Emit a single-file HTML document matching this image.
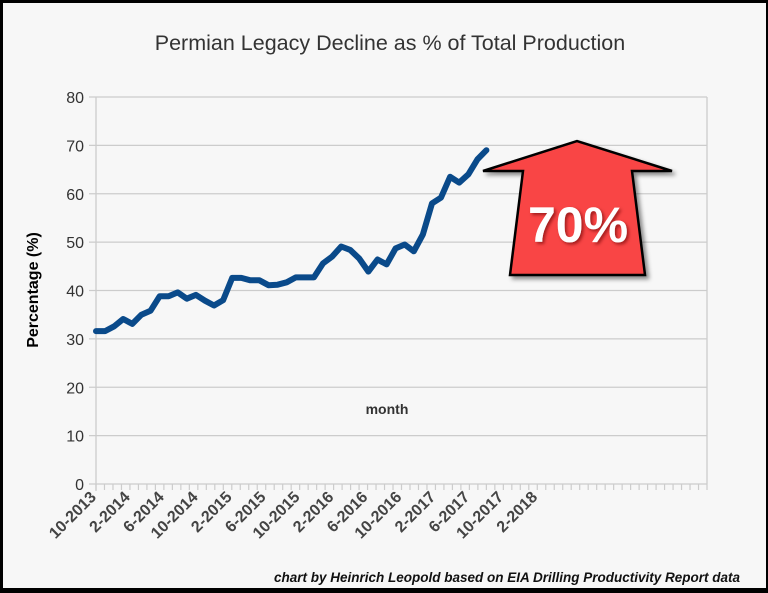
<!DOCTYPE html>
<html><head><meta charset="utf-8"><style>
html,body{margin:0;padding:0;background:#000}
#wrap{position:relative;width:768px;height:593px;overflow:hidden;background:#000}
svg{position:absolute;left:0;top:0;font-family:"Liberation Sans",sans-serif}
</style></head><body>
<div id="wrap">
<svg id="c" width="768" height="593">
<defs><filter id="sh" x="-20%" y="-20%" width="150%" height="150%"><feDropShadow dx="3" dy="3" stdDeviation="2" flood-color="#000" flood-opacity="0.45"/></filter>
<filter id="ts"><feDropShadow dx="2" dy="2" stdDeviation="1.5" flood-color="#600" flood-opacity="0.6"/></filter></defs>
<rect x="3" y="3" width="763" height="585" fill="#f7f7f7"/>
<text x="390" y="50" text-anchor="middle" font-size="21.5" fill="#333">Permian Legacy Decline as % of Total Production</text>
<text transform="translate(38,290) rotate(-90)" text-anchor="middle" font-size="16" font-weight="bold" fill="#000">Percentage (%)</text>
<text x="387" y="414" text-anchor="middle" font-size="14" font-weight="bold" fill="#333">month</text>
<g id="grid"></g><g id="xt"></g>
<path id="line" fill="none" stroke="#0a4a8a" stroke-width="6" stroke-linejoin="round" stroke-linecap="round"/>
<g>
<polygon points="483,171 577,141 672,171 632,171 645,275 510,275 523,171" fill="#f94545" stroke="#000" stroke-width="2.5" filter="url(#sh)"/>
<text x="578" y="242" text-anchor="middle" font-size="50" font-weight="bold" fill="#fff" filter="url(#ts)">70%</text>
</g>
<text x="740" y="582" text-anchor="end" font-size="13.5" font-weight="bold" font-style="italic" fill="#111">chart by Heinrich Leopold based on EIA Drilling Productivity Report data</text>
</svg></div>
<script>
const yTicks=[0,10,20,30,40,50,60,70,80];
const xLabels=["10-2013","2-2014","6-2014","10-2014","2-2015","6-2015","10-2015","2-2016","6-2016","10-2016","2-2017","6-2017","10-2017","2-2018"];
const values=[31.6,31.6,32.6,34.1,33.1,35,35.8,38.8,38.8,39.6,38.3,39.1,37.9,36.9,38,42.6,42.6,42.1,42.1,41.1,41.2,41.7,42.7,42.7,42.7,45.6,47,49.1,48.4,46.6,43.9,46.4,45.4,48.7,49.5,48.1,51.6,58,59.2,63.5,62.3,64,67.1,69];
const X0=96,X1=707,Y0=484,Y1=97,NM=72;
const y=v=>Y0-(v/80)*(Y0-Y1);
const xm=m=>X0+m*(X1-X0)/NM;
const xi=i=>xm(i*1.07);
const NS="http://www.w3.org/2000/svg";
const g=document.getElementById('grid'),xt=document.getElementById('xt');
function mk(t,a,p){const e=document.createElementNS(NS,t);for(const k in a)e.setAttribute(k,a[k]);p.appendChild(e);return e;}
yTicks.forEach(v=>{
 const l=mk('line',{x1:X0-7,x2:X1,y1:y(v),y2:y(v),stroke:'#ccc','stroke-width':1.3},g);
 
 
 const t=mk('text',{x:X0-12,y:y(v)+6,'text-anchor':'end','font-size':16,fill:'#333'},g);
 t.textContent=v;
 
 
});
const ax=mk('line',{x1:X0,x2:X0,y1:Y1,y2:Y0+7,stroke:'#ccc','stroke-width':1.3},g);


const rx=mk('line',{x1:X1,x2:X1,y1:Y1,y2:Y0,stroke:'#ccc','stroke-width':1.3},g);


for(let m=0;m<=NM;m++){
 const tk=mk('line',{x1:xm(m),x2:xm(m),y1:Y0,y2:Y0+6,stroke:'#ccc','stroke-width':1.2},xt);
 
 
}
xLabels.forEach((s,i)=>{
 const px=xm(i*4);
 const t=mk('text',{x:px+1,y:Y0+14,'text-anchor':'end','font-size':16,'font-weight':'bold',fill:'#444',transform:`rotate(-45 ${px+1} ${Y0+14})`},xt);
 t.textContent=s;
 
 
});
document.getElementById('line').setAttribute('d',values.map((v,i)=>(i?'L':'M')+xi(i).toFixed(1)+','+y(v).toFixed(1)).join(''));
</script>
</body></html>
